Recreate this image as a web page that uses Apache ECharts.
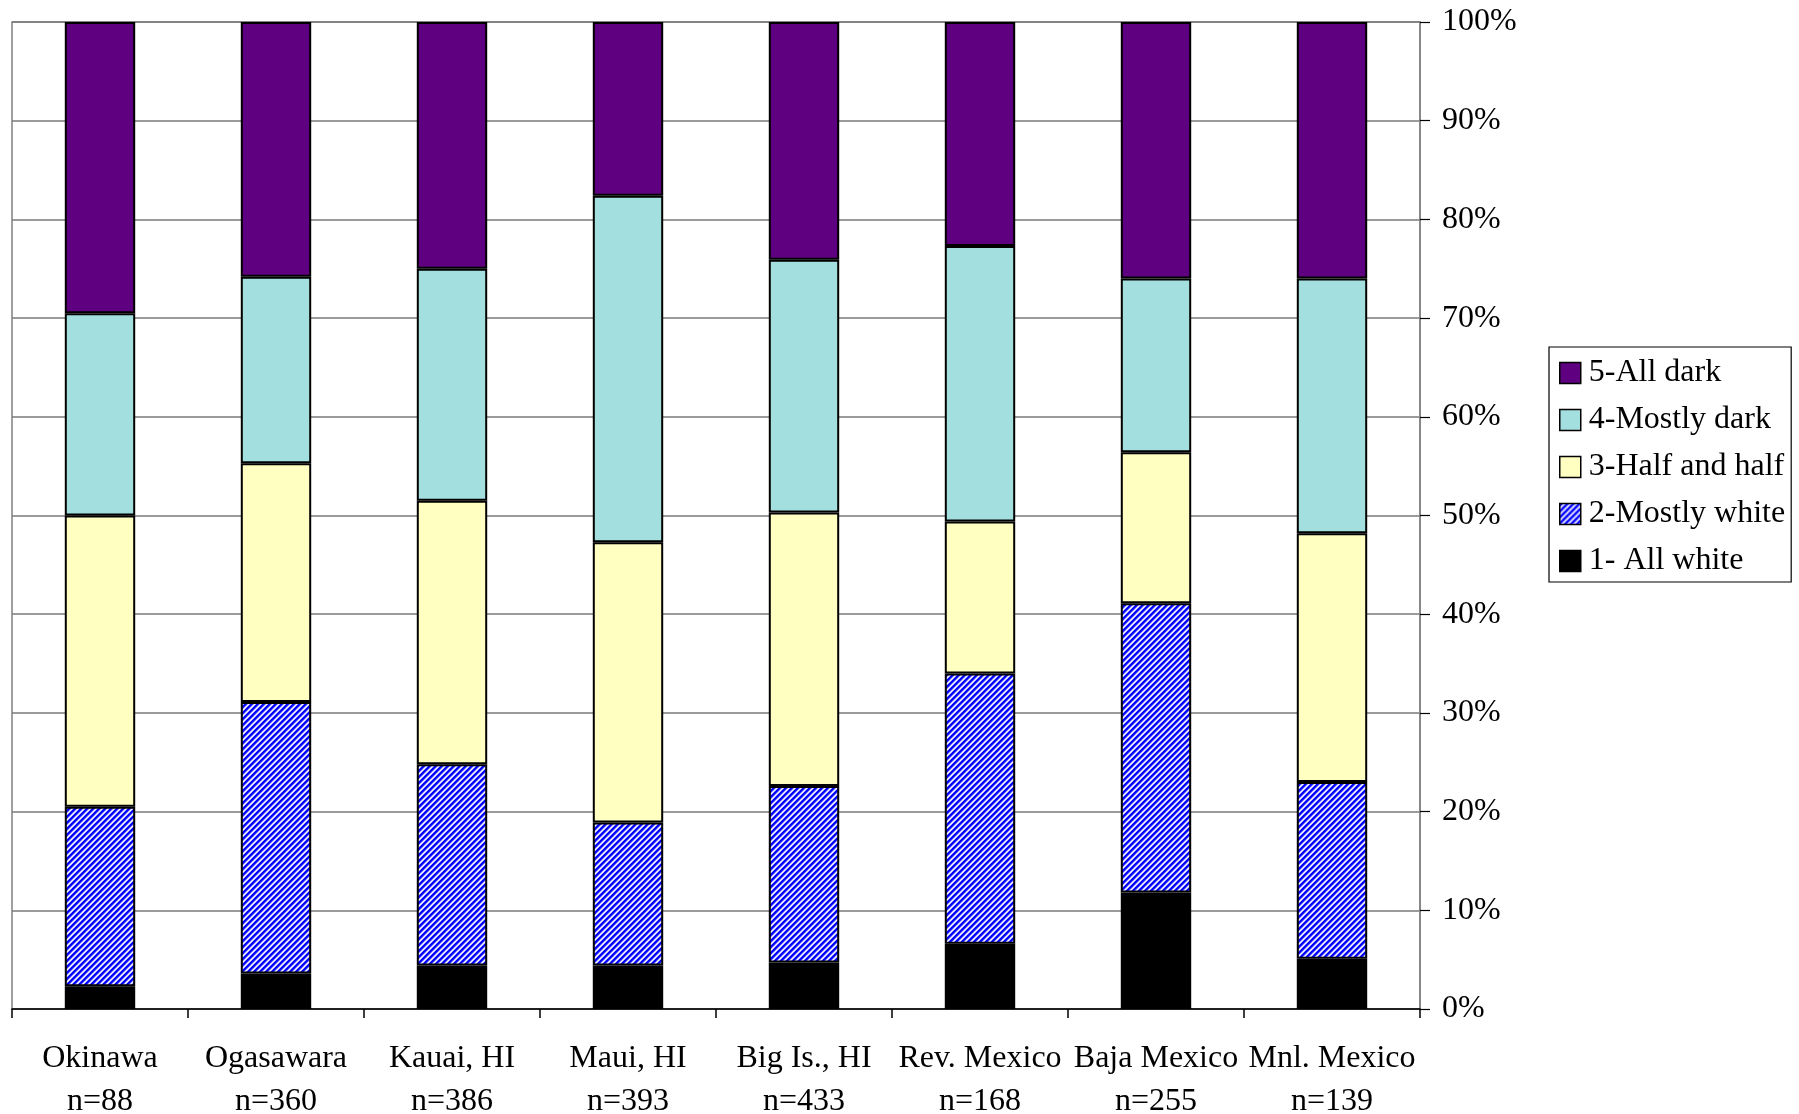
<!DOCTYPE html>
<html>
<head>
<meta charset="utf-8">
<script src="https://cdn.jsdelivr.net/npm/echarts@6/dist/echarts.min.js"></script>
<style>
  html, body { margin: 0; padding: 0; background: #fff; }
  #chart { width: 1799px; height: 1114px; }
</style>
</head>
<body>
<div id="chart"></div>
<script>
// Sites surveyed, with sample sizes shown under each name
const categories = ['Okinawa', 'Ogasawara', 'Kauai, HI', 'Maui, HI', 'Big Is., HI', 'Rev. Mexico', 'Baja Mexico', 'Mnl. Mexico'];
const sampleSizes = [88, 360, 386, 393, 433, 168, 255, 139];

// Percentage of animals in each pigmentation class per site
const allWhite    = [2.3, 3.6, 4.4, 4.4, 4.7, 6.6, 11.8, 5.1];
const mostlyWhite = [18.2, 27.5, 20.4, 14.5, 17.9, 27.4, 29.3, 17.9];
const halfAndHalf = [29.5, 24.2, 26.7, 28.4, 27.7, 15.4, 15.3, 25.2];
const mostlyDark  = [20.5, 18.9, 23.5, 35.1, 25.6, 27.9, 17.6, 25.8];
const allDark     = [29.5, 25.8, 25.0, 17.6, 24.1, 22.7, 26.0, 26.0];

const seriesNames = ['1- All white', '2-Mostly white', '3-Half and half', '4-Mostly dark', '5-All dark'];
const yTicks = [0, 10, 20, 30, 40, 50, 60, 70, 80, 90, 100];

const FONT = "'Liberation Serif', 'Times New Roman', serif";

// Blue/white diagonal hatch used for the "mostly white" class
function makeHatch() {
  const shades = [[0, 0, 255], [0, 0, 255], [40, 40, 255], [170, 170, 255], [255, 255, 255], [160, 160, 255]];
  const P = shades.length;
  const c = document.createElement('canvas');
  c.width = P; c.height = P;
  const ctx = c.getContext('2d');
  const img = ctx.createImageData(P, P);
  for (let y = 0; y < P; y++) {
    for (let x = 0; x < P; x++) {
      const s = shades[(x + y) % P];
      const i = (y * P + x) * 4;
      img.data[i] = s[0]; img.data[i + 1] = s[1]; img.data[i + 2] = s[2]; img.data[i + 3] = 255;
    }
  }
  ctx.putImageData(img, 0, 0);
  return { image: c, repeat: 'repeat' };
}

const fills = ['#000000', makeHatch(), '#FFFFC2', '#A3DFDF', '#5E0080'];
const values = [allWhite, mostlyWhite, halfAndHalf, mostlyDark, allDark];

const chart = echarts.init(document.getElementById('chart'), null, { renderer: 'canvas' });

chart.setOption({
  animation: false,
  backgroundColor: '#ffffff',
  grid: {
    left: 12, right: 379, top: 22, bottom: 105,
    outerBoundsMode: 'none',
    containLabel: false,
    show: true, borderColor: '#808080', borderWidth: 1.5, backgroundColor: 'transparent'
  },
  legend: {
    orient: 'vertical',
    left: 1549, top: 347,
    icon: 'rect',
    data: seriesNames.slice().reverse(),
    backgroundColor: '#fff',
    borderColor: '#000', borderWidth: 1.2,
    padding: [10, 6, 5, 10],
    itemWidth: 21, itemHeight: 21, itemGap: 15,
    textStyle: { fontFamily: FONT, fontSize: 32, color: '#000', padding: [0, 0, 0, 3] },
    itemStyle: { borderColor: '#000', borderWidth: 1.5 }
  },
  xAxis: {
    type: 'category',
    data: categories,
    axisLine: { show: true, lineStyle: { color: '#000', width: 1.5 } },
    axisTick: { show: true, length: 9, lineStyle: { color: '#000', width: 1.5 } },
    axisLabel: {
      fontFamily: FONT, fontSize: 32, color: '#000',
      lineHeight: 43, margin: 28, interval: 0,
      formatter: (v, i) => v + '\nn=' + sampleSizes[i]
    },
    splitLine: { show: false }
  },
  yAxis: {
    type: 'value',
    position: 'right',
    min: yTicks[0], max: yTicks[yTicks.length - 1], interval: 10,
    axisLine: { show: true, lineStyle: { color: '#808080', width: 1.5 } },
    axisTick: { show: true, length: 10, lineStyle: { color: '#000', width: 1.2 } },
    axisLabel: {
      fontFamily: FONT, fontSize: 32, color: '#000', margin: 22,
      formatter: '{value}%'
    },
    splitLine: { show: true, lineStyle: { color: '#7a7a7a', width: 1.5 } }
  },
  series: seriesNames.map((name, k) => ({
    name: name,
    type: 'bar',
    stack: 'total',
    barWidth: '40%',
    data: values[k],
    itemStyle: { color: fills[k], borderColor: '#000', borderWidth: 2 },
    emphasis: { disabled: true }
  }))
});
</script>
</body>
</html>
